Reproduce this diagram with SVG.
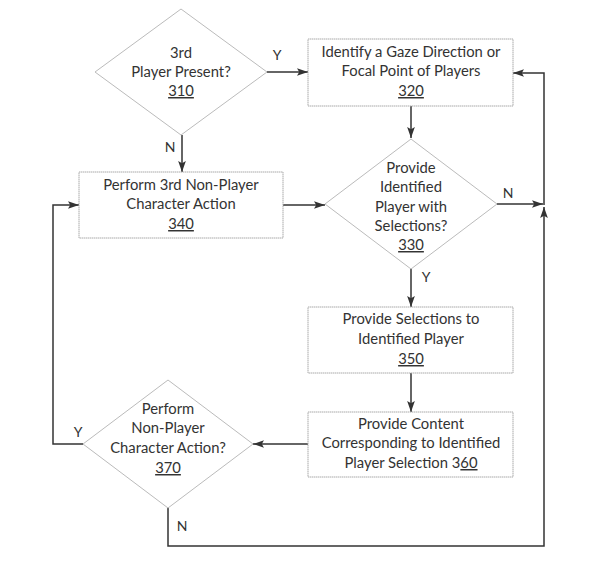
<svg xmlns="http://www.w3.org/2000/svg" width="592" height="580" viewBox="0 0 592 580">
<style>
.box{fill:#fff;stroke:#aaa;stroke-width:1;stroke-dasharray:1.5 0.5}
.dia{fill:#fff;stroke:#bbb;stroke-width:1}
.t{font-family:Lato,"Open Sans",sans-serif;font-size:14.8px;fill:#333;text-anchor:middle}
.u{text-decoration:underline}
.c{fill:none;stroke:#333;stroke-width:1.5}
.l{font-family:Lato,"Open Sans",sans-serif;font-size:14px;fill:#333;text-anchor:middle}
</style>
<defs>
<marker id="a" viewBox="0 0 10 10" refX="10" refY="5" markerWidth="11" markerHeight="11" markerUnits="userSpaceOnUse" orient="auto">
<path d="M0,1.5 L10,5 L0,8.5 L2,5 Z" fill="#333"/>
</marker>
</defs>
<rect width="592" height="580" fill="#fff"/>
<g id="connectors">
<path class="c" d="M267,72 H308" marker-end="url(#a)"/>
<path class="c" d="M411,106 V138" marker-end="url(#a)"/>
<path class="c" d="M182,135 V172" marker-end="url(#a)"/>
<path class="c" d="M283,205 H325" marker-end="url(#a)"/>
<path class="c" d="M497,204 H543" marker-end="url(#a)"/>
<path class="c" d="M544,205 V73 H513" marker-end="url(#a)"/>
<path class="c" d="M411,268 V307" marker-end="url(#a)"/>
<path class="c" d="M411,373 V412" marker-end="url(#a)"/>
<path class="c" d="M308,444 H253" marker-end="url(#a)"/>
<path class="c" d="M83,444 H53 V205 H79" marker-end="url(#a)"/>
<path class="c" d="M168,507 V546 H544 V207" marker-end="url(#a)"/>
<text class="l" x="277" y="60">Y</text>
<text class="l" x="170" y="152">N</text>
<text class="l" x="508" y="198">N</text>
<text class="l" x="426" y="282">Y</text>
<text class="l" x="78" y="437">Y</text>
<text class="l" x="182" y="531">N</text>
</g>
<g id="n310">
<polygon class="dia" points="181,9 267,72 181,135 95,72"/>
<text class="t" x="181" y="58">3rd</text>
<text class="t" x="181" y="77">Player Present?</text>
<text class="t u" x="181" y="96">310</text>
</g>
<g id="n320">
<rect class="box" x="308" y="39" width="205" height="67"/>
<text class="t" x="411" y="57">Identify a Gaze Direction or</text>
<text class="t" x="411" y="76">Focal Point of Players</text>
<text class="t u" x="411" y="96">320</text>
</g>
<g id="n340">
<rect class="box" x="79" y="172" width="204" height="66"/>
<text class="t" x="181" y="190">Perform 3rd Non-Player</text>
<text class="t" x="181" y="209">Character Action</text>
<text class="t u" x="181" y="229">340</text>
</g>
<g id="n330">
<polygon class="dia" points="411,139 497,204 411,269 325,204"/>
<text class="t" x="411" y="173">Provide</text>
<text class="t" x="411" y="192">Identified</text>
<text class="t" x="411" y="212">Player with</text>
<text class="t" x="411" y="231">Selections?</text>
<text class="t u" x="411" y="250">330</text>
</g>
<g id="n350">
<rect class="box" x="308" y="307" width="205" height="66"/>
<text class="t" x="411" y="324">Provide Selections to</text>
<text class="t" x="411" y="344">Identified Player</text>
<text class="t u" x="411" y="364">350</text>
</g>
<g id="n360">
<rect class="box" x="308" y="412" width="205" height="65"/>
<text class="t" x="411" y="429">Provide Content</text>
<text class="t" x="411" y="448">Corresponding to Identified</text>
<text class="t" x="411" y="468">Player Selection 3<tspan class="u">60</tspan></text>
</g>
<g id="n370">
<polygon class="dia" points="168,380 253,444 168,508 83,444"/>
<text class="t" x="168" y="414">Perform</text>
<text class="t" x="168" y="433">Non-Player</text>
<text class="t" x="168" y="453">Character Action?</text>
<text class="t u" x="168" y="473">370</text>
</g>
</svg>
